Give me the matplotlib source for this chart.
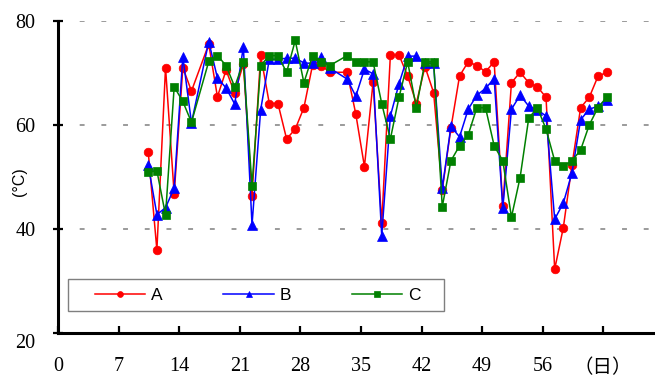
import matplotlib
matplotlib.use("Agg")
import matplotlib.pyplot as plt
from matplotlib.patches import Rectangle
from matplotlib.transforms import ScaledTranslation
import numpy as np

# Measurement days (day 16 and day 32 not recorded)
days = [10, 11, 12, 13, 14, 15,
        17, 18, 19, 20, 21, 22, 23, 24, 25, 26, 27, 28, 29, 30, 31,
        33, 34, 35, 36, 37, 38, 39, 40, 41, 42, 43, 44, 45, 46, 47, 48,
        49, 50, 51, 52, 53, 54, 55, 56, 57, 58, 59, 60, 61, 62, 63]

temp_a = [54.8, 36.0, 71.0, 46.7, 71.0, 66.5,
          75.5, 65.4, 70.5, 66.1, 71.7, 46.4, 73.4, 64.1, 64.1, 57.3, 59.2, 63.3, 71.5, 71.4, 70.1,
          70.1, 62.1, 52.0, 68.2, 41.1, 73.4, 73.4, 69.4, 64.1, 71.2, 66.2, 47.5, 59.4, 69.4, 72.1, 71.4,
          70.2, 72.1, 44.4, 68.1, 70.1, 68.1, 67.3, 65.3, 32.3, 40.3, 52.3, 63.3, 65.3, 69.3, 70.1]

temp_b = [52.3, 42.8, 44.1, 47.9, 73.1, 60.4,
          76.0, 69.0, 67.1, 64.0, 75.0, 40.8, 62.9, 72.6, 72.6, 72.8, 72.8, 71.9, 71.8, 73.0, 70.9,
          68.8, 65.5, 70.7, 69.8, 38.7, 61.7, 67.9, 73.2, 73.2, 71.8, 71.8, 47.8, 59.7, 57.7, 63.0, 65.7,
          67.0, 68.9, 44.0, 63.0, 65.7, 63.6, 62.9, 61.7, 41.9, 45.0, 50.8, 61.0, 63.0, 63.6, 64.8]

temp_c = [50.9, 51.2, 42.7, 67.3, 64.5, 60.5,
          72.2, 73.3, 71.4, 67.3, 72.1, 48.3, 71.4, 73.3, 73.3, 70.1, 76.2, 68.1, 73.3, 72.1, 71.4,
          73.3, 72.1, 72.1, 72.1, 64.1, 57.3, 65.3, 72.1, 63.3, 72.1, 72.1, 44.3, 53.1, 56.0, 58.1, 63.3,
          63.3, 56.0, 53.1, 42.3, 49.9, 61.3, 63.3, 59.2, 53.1, 52.1, 53.1, 55.2, 60.0, 63.3, 65.3]

series_names = ["A", "B", "C"]
x_ticks = [0, 7, 14, 21, 28, 35, 42, 49, 56, 63]
x_tick_labels = ["0", "7", "14", "21", "28", "35", "42", "49", "56", "（日）"]
y_ticks = [20, 40, 60, 80]
y_tick_labels = ["20", "40", "60", "80"]

W, H = 655, 377
fig = plt.figure(figsize=(W / 100, H / 100), dpi=100)
fig.patch.set_facecolor("white")

# axes box in pixels: left 58.3, bottom 333.3, top 20.7, right edge of figure
left_px, bottom_px, top_px = 58.3, 333.3, 20.7
ax = fig.add_axes([left_px / W, 1 - bottom_px / H, (W - left_px) / W, (bottom_px - top_px) / H])
ax.set_xlim(0, 69)
ax.set_ylim(20, 80)

# readings were taken around mid-day
x = np.array(days) + 0.4

styles = [
    dict(color="#ff0000", marker="o", markersize=6.2),
    dict(color="#0000ff", marker="^", markersize=7.0),
    dict(color="#008000", marker="s", markersize=5.8),
]
for name, vals, st in zip(series_names, [temp_a, temp_b, temp_c], styles):
    ax.plot(x, vals, linestyle="-", linewidth=1.1, label=name,
            color=st["color"], marker=st["marker"], markersize=st["markersize"],
            markerfacecolor=st["color"], markeredgecolor=st["color"], markeredgewidth=0.5,
            clip_on=False, zorder=3)

# dashed horizontal gridlines
for yv in [40, 60, 80]:
    ax.axhline(yv, color="#808080", linewidth=1.1, linestyle=(0, (3.2, 11.0)), zorder=1)

for side in ["top", "right"]:
    ax.spines[side].set_visible(False)
for side in ["left", "bottom"]:
    ax.spines[side].set_linewidth(2.2)
    ax.spines[side].set_color("black")
    ax.spines[side].set_capstyle("projecting")

ax.set_xticks(x_ticks)
ax.set_xticklabels(x_tick_labels)
ax.set_yticks(y_ticks)
ax.set_yticklabels(y_tick_labels)

ax.tick_params(axis="x", direction="in", length=5, width=1.6, pad=17)
ax.tick_params(axis="y", direction="inout", length=7, width=1.6, pad=13)

for lbl in ax.get_xticklabels() + ax.get_yticklabels():
    lbl.set_fontfamily(["Liberation Serif", "Noto Sans CJK JP"])
    lbl.set_fontsize(14.5)
ax.get_xticklabels()[-1].set_fontfamily(["Noto Sans CJK JP"])
ax.get_xticklabels()[-1].set_fontsize(14)

# the lowest y label sits a little below its tick
low_lbl = ax.get_yticklabels()[0]
low_lbl.set_transform(low_lbl.get_transform() + ScaledTranslation(0, -0.08, fig.dpi_scale_trans))

fig.text(20 / W, 1 - 182 / H, "(°C)", rotation=90, ha="center", va="center",
         fontfamily="Liberation Sans", fontsize=11.5)

# legend frame and entries
lg_left, lg_right, lg_top, lg_bot = 68, 444, 279, 311
ax_w = W - left_px
ax_h = bottom_px - top_px
fx0 = (lg_left - left_px) / ax_w
fy0 = (bottom_px - lg_bot) / ax_h
fw = (lg_right - lg_left) / ax_w
fh = (lg_bot - lg_top) / ax_h
ax.add_patch(Rectangle((fx0, fy0), fw, fh, transform=ax.transAxes,
                       facecolor="white", edgecolor="#7f7f7f", linewidth=1.0, zorder=4))
leg = ax.legend(loc="center", bbox_to_anchor=(fx0 + fw / 2 + 0.003, fy0 + fh / 2),
                ncol=3, frameon=False, markerscale=0.68,
                handlelength=2.9, handletextpad=0.35, columnspacing=3.5,
                prop={"family": "Liberation Sans", "size": 12.5})
leg.set_zorder(5)

fig.savefig("out.png", dpi=100)
